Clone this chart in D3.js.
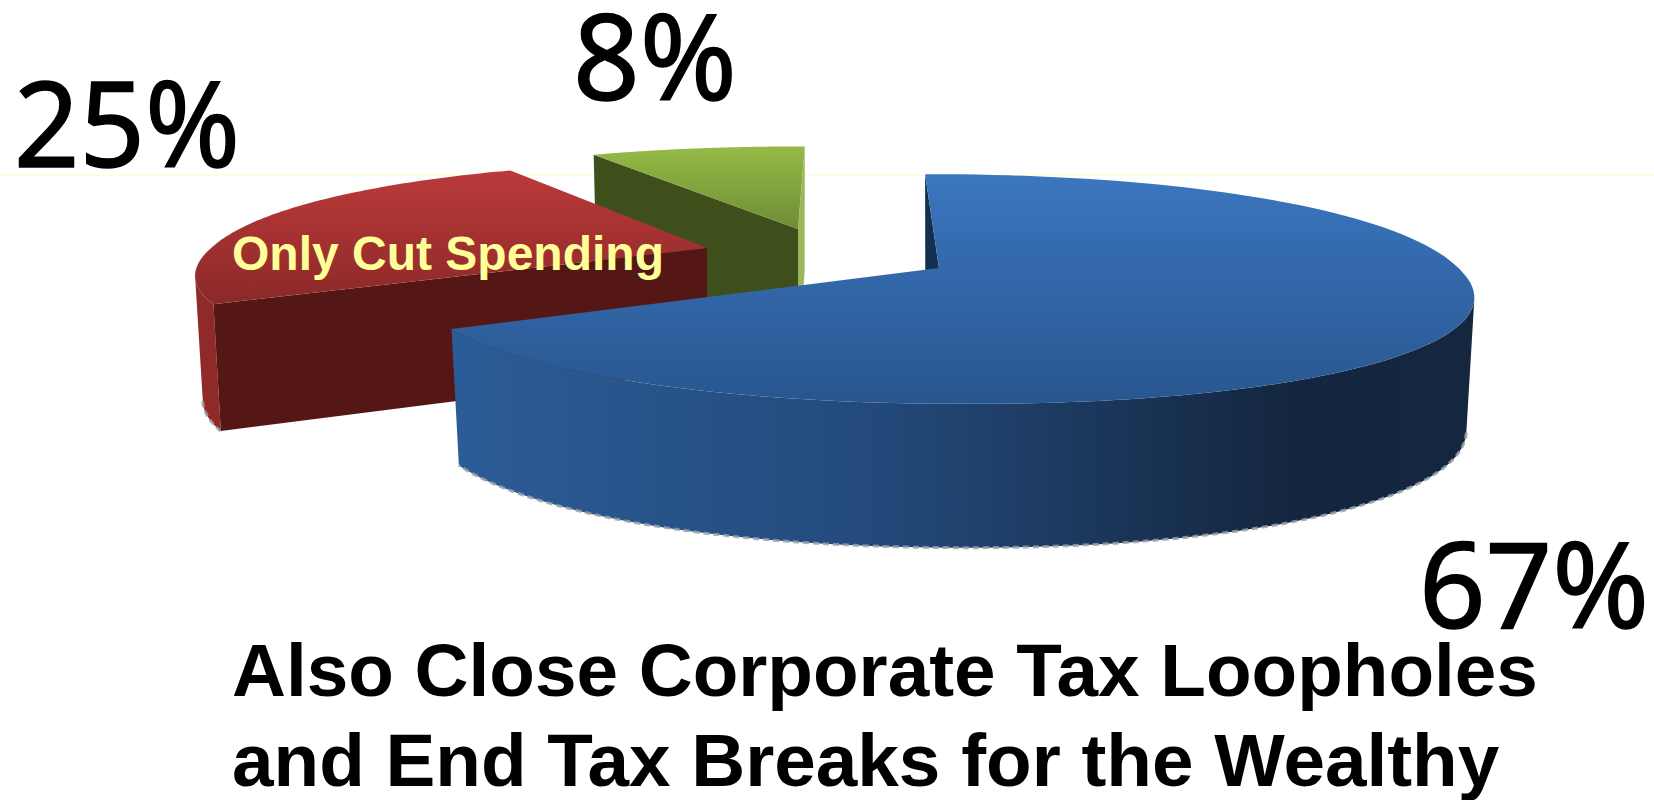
<!DOCTYPE html>
<html>
<head>
<meta charset="utf-8">
<style>
  html, body { margin: 0; padding: 0; background: #fff; overflow: hidden; }
  svg { display: block; }
</style>
<script src="https://cdn.jsdelivr.net/npm/d3@7"></script>
</head>
<body>
<svg id="chart" width="1654" height="800"></svg>
<script>
// data
const categories = ["Also Close Corporate Tax Loopholes and End Tax Breaks for the Wealthy", "Only Cut Spending", "Other"];
const values = [67, 25, 8];
const valueLabels = ["67%", "25%", "8%"];
const titleLines = ["Also Close Corporate Tax Loopholes", "and End Tax Breaks for the Wealthy"];
const sliceName = "Only Cut Spending";

// layout of the fake 3d pie
const RX = 527, RY = 111, PERSP = 0.183, DROP = 0.985, ROUND = 0.95;
const looks = [
    { cx: 939, cy: 268, dx: 3, rx: 0.98,  shear: 20,  ry: 1,    h: 130, top: ["#3b76bf", "#28568f"], wall: "#15304f", side: "url(#blueSide)", fringe: true, y0: 174, y1: 404 },
    { cx: 707, cy: 248, dx: 0, rx: 0.941, shear: -22, ry: 0.92, h: 121, top: ["#bb3a3a", "#8c2828"], wall: "#541715", side: "#8f2a28", fringe: true, y0: 171, y1: 305 },
    { cx: 798, cy: 229, dx: 0, rx: 0.928, shear: -8,  ry: 0.88, h: 135, top: ["#96bb46", "#6f8c36"], wall: "#3f4f1c", side: "#9ab85a", fringe: false, y0: 146, y1: 229 }
];

const svg = d3.select("#chart");
const defs = svg.append("defs");

const pie = d3.pie().sort(null).startAngle(0).endAngle(2 * Math.PI);
const arcs = pie(values);

// thin pale line running behind the pie
svg.append("line")
    .attr("x1", 0).attr("x2", 1654)
    .attr("y1", 175.5).attr("y2", 175.5)
    .attr("stroke", "#ffffcc").attr("stroke-width", 1);

const sideGrad = defs.append("linearGradient")
    .attr("id", "blueSide")
    .attr("gradientUnits", "userSpaceOnUse")
    .attr("x1", 456).attr("x2", 1475).attr("y1", 0).attr("y2", 0);
[[0, "#2c5c97"], [0.42, "#23497a"], [0.82, "#14263f"], [1, "#14273f"]].forEach(s => {
    sideGrad.append("stop").attr("offset", s[0]).attr("stop-color", s[1]);
});

const round = n => Math.sign(n) * Math.pow(Math.abs(n), ROUND);

function rimPoint(a, t) {
    const u = round(Math.sin(t)), v = round(Math.cos(t));
    const s = 1 / (1 + PERSP * v);
    return {
        x: a.cx + a.dx + (RX * a.rx * u - a.shear * v) * s,
        y: a.cy - RY * a.ry * v * s,
        s: s
    };
}
function drop(a, p) {
    return [a.cx + (p.x - a.cx) * DROP, p.y + a.h * Math.sqrt(p.s)];
}

const line = d3.line();

// draw back slices first, blue on top
[2, 1, 0].forEach(i => {
    const d = arcs[i], a = looks[i];
    const g = svg.append("g").attr("class", "slice");

    const ts = d3.range(0, 121).map(k => d.startAngle + (d.endAngle - d.startAngle) * k / 120);
    const pts = ts.map(t => rimPoint(a, t));
    const rim = pts.map(p => [p.x, p.y]);
    const low = pts.map(p => drop(a, p));
    const c = [a.cx, a.cy], cLow = [a.cx, a.cy + a.h];

    // outer wall: only the stretch that faces us, where the rim runs leftwards
    const front = d3.range(0, 120).filter(k => rim[k + 1][0] < rim[k][0]);
    if (front.length) {
        const idx = front.concat([front[front.length - 1] + 1]);
        const rimF = idx.map(k => rim[k]);
        const lowF = idx.map(k => low[k]);
        g.append("path")
            .attr("d", line(rimF.concat(lowF.slice().reverse())) + "Z")
            .attr("fill", a.side);
        if (a.fringe) {
            g.append("path")
                .attr("d", line(lowF))
                .attr("fill", "none")
                .attr("stroke", "#9aa0a8")
                .attr("stroke-width", 3)
                .attr("stroke-dasharray", "6 4")
                .attr("opacity", 0.8);
        }
    }

    // cut faces
    if (i === 2) {
        g.append("path").attr("d", line([rim[rim.length - 1], c, cLow, low[low.length - 1]]) + "Z")
            .attr("fill", a.side);
    }
    g.append("path").attr("d", line([rim[0], c, cLow, low[0]]) + "Z")
        .attr("fill", a.wall);

    const id = "top" + i;
    const grad = defs.append("linearGradient")
        .attr("id", id)
        .attr("gradientUnits", "userSpaceOnUse")
        .attr("x1", 0).attr("x2", 0).attr("y1", a.y0).attr("y2", a.y1);
    grad.append("stop").attr("offset", 0).attr("stop-color", a.top[0]);
    grad.append("stop").attr("offset", 1).attr("stop-color", a.top[1]);

    g.append("path")
        .attr("d", line(rim.concat([c])) + "Z")
        .attr("fill", `url(#${id})`);
});

// percent labels
const labelPos = [[1419, 628, 230], [14, 167, 226], [573, 100, 164]];
valueLabels.forEach((t, i) => {
    svg.append("text")
        .attr("x", labelPos[i][0]).attr("y", labelPos[i][1])
        .attr("textLength", labelPos[i][2])
        .attr("lengthAdjust", "spacingAndGlyphs")
        .style("font", "118px 'Noto Sans'")
        .attr("fill", "#000")
        .attr("stroke", "#000")
        .attr("stroke-width", 1.5)
        .text(t);
});

svg.append("text")
    .attr("x", 232).attr("y", 270)
    .style("font", "bold 48px 'Liberation Sans'")
    .attr("fill", "#ffff99")
    .text(sliceName);

titleLines.forEach((t, i) => {
    svg.append("text")
        .attr("x", 232).attr("y", 696 + i * 90)
        .style("font", "bold 74.7px 'Liberation Sans'")
        .attr("fill", "#000")
        .text(t);
});
</script>
</body>
</html>
